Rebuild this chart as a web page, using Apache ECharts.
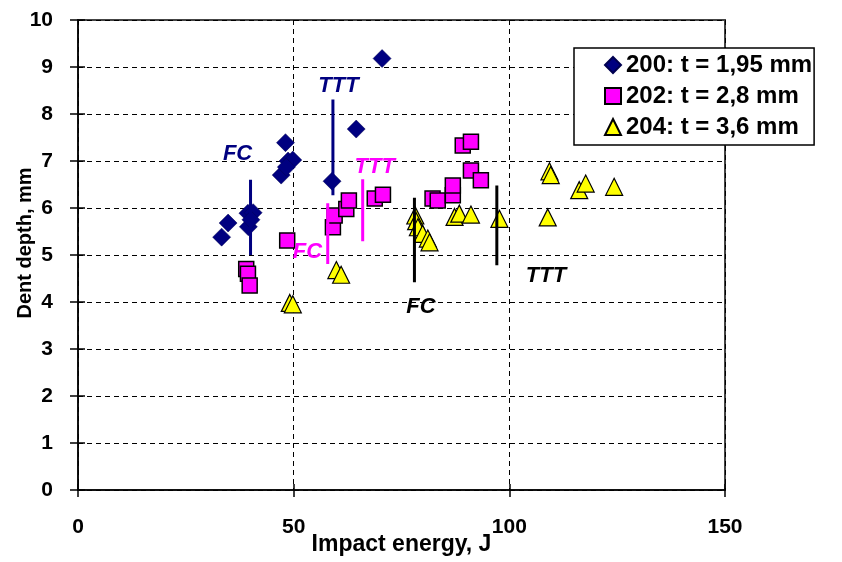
<!DOCTYPE html>
<html>
<head>
<meta charset="utf-8">
<script src="https://cdn.jsdelivr.net/npm/echarts@6/dist/echarts.min.js"></script>
<style>
  html, body { margin: 0; padding: 0; background: #fff; }
  #main { width: 842px; height: 562px; }
</style>
</head>
<body>
<div id="main"></div>
<script>
var dom = document.getElementById('main');
var myChart = echarts.init(dom);

// data: [impact energy J, dent depth mm]
var s200 = [[33.3, 5.38], [34.8, 5.68], [39.4, 5.89], [40.6, 5.9], [39.5, 5.6], [40.1, 5.75],
    [48.1, 7.39], [48.7, 7.0], [49.8, 7.02], [47.1, 6.7], [48.3, 6.87], [58.9, 6.57],
    [64.5, 7.68], [70.5, 9.18]];
var s202 = [[39.0, 4.7], [39.4, 4.6], [39.8, 4.35], [48.5, 5.31], [59.1, 5.59], [59.5, 5.84],
    [62.2, 5.98], [62.8, 6.16], [68.8, 6.2], [70.7, 6.28], [82.2, 6.2], [83.4, 6.16],
    [86.9, 6.27], [86.9, 6.48], [89.2, 7.33], [91.1, 7.41], [91.1, 6.8], [93.4, 6.59]];
var s204 = [[49.1, 3.98], [49.8, 3.95], [59.9, 4.68], [61.0, 4.58], [78.2, 5.84], [78.4, 5.72],
    [78.8, 5.59], [79.9, 5.45], [81.1, 5.35], [81.5, 5.27], [87.3, 5.81], [88.4, 5.88],
    [91.1, 5.86], [97.7, 5.77], [108.9, 5.8], [109.3, 6.78], [109.6, 6.7], [116.2, 6.38],
    [117.7, 6.52], [124.3, 6.45]];

var seriesNames = ['200: t = 1,95 mm', '202: t = 2,8 mm', '204: t = 3,6 mm'];

// FC / TTT range bars
var barX = [40.0, 59.1, 57.9, 66.0, 78.0, 97.1];
var barLow = [5.0, 6.27, 4.81, 5.29, 4.42, 4.78];
var barHigh = [6.6, 8.31, 6.1, 6.61, 6.22, 6.48];
var barColor = ['#000080', '#000080', '#ff00ff', '#ff00ff', '#000000', '#000000'];

// FC / TTT labels
var noteText = ['FC', 'TTT', 'FC', 'TTT', 'FC', 'TTT'];
var noteX = [37.0, 60.4, 53.2, 68.8, 79.5, 108.5];
var noteY = [7.16, 8.6, 5.06, 6.87, 3.89, 4.56];

var xTicks = [0, 150, 50];   // min, max, step
var yTicks = [0, 10, 1];

var fontFam = "'Liberation Sans', Arial, sans-serif";

var series = [
    {
        name: seriesNames[0],
        type: 'scatter',
        symbol: 'diamond',
        symbolSize: 18,
        itemStyle: { color: '#000080', borderColor: '#000050', borderWidth: 0.5, opacity: 1 },
        data: s200,
        z: 3
    },
    {
        name: seriesNames[1],
        type: 'scatter',
        symbol: 'rect',
        symbolSize: 15,
        itemStyle: { color: '#ff00ff', borderColor: '#000', borderWidth: 1.5, opacity: 1 },
        data: s202,
        z: 3
    },
    {
        name: seriesNames[2],
        type: 'scatter',
        symbol: 'triangle',
        symbolSize: 17,
        itemStyle: { color: '#ffff00', borderColor: '#000', borderWidth: 1.2, opacity: 1 },
        data: s204,
        z: 3
    }
];

for (var i = 0; i < barX.length; i++) {
    series.push({
        type: 'line',
        symbol: 'none',
        silent: true,
        lineStyle: { color: barColor[i], width: 3 },
        data: [[barX[i], barLow[i]], [barX[i], barHigh[i]]],
        z: 4
    });
    series.push({
        type: 'scatter',
        symbolSize: 1,
        silent: true,
        itemStyle: { color: 'rgba(0,0,0,0)', opacity: 1 },
        label: {
            show: true,
            position: 'inside',
            formatter: noteText[i],
            color: barColor[i],
            opacity: 1,
            textBorderWidth: 0,
            fontStyle: 'italic',
            fontWeight: 'bold',
            fontSize: 22,
            fontFamily: fontFam
        },
        data: [[noteX[i], noteY[i]]],
        z: 5
    });
}

var gridLine = { show: true, lineStyle: { color: '#000', type: [5, 4], width: 1 } };
var tickFont = { fontSize: 21, fontWeight: 'bold', color: '#000', fontFamily: fontFam };

var option = {
    backgroundColor: '#fff',
    animation: false,
    grid: {
        left: 78,
        right: 117,
        top: 20,
        bottom: 72,
        outerBoundsMode: 'none',
        containLabel: false,
        show: true,
        borderColor: '#444',
        borderWidth: 2,
        backgroundColor: 'transparent'
    },
    legend: {
        data: seriesNames,
        orient: 'vertical',
        left: 574,
        top: 48,
        padding: [5, 2, 6, 30],
        itemWidth: 16,
        itemHeight: 16,
        itemGap: 7,
        backgroundColor: '#fff',
        borderColor: '#000',
        borderWidth: 1.5,
        borderRadius: 0,
        textStyle: {
            fontSize: 24,
            fontWeight: 'bold',
            color: '#000',
            fontFamily: fontFam
        }
    },
    xAxis: [{
        type: 'value',
        min: xTicks[0],
        max: xTicks[1],
        interval: xTicks[2],
        name: 'Impact energy, J',
        nameLocation: 'middle',
        nameGap: 43,
        nameMoveOverlap: false,
        nameTextStyle: { fontSize: 23, fontWeight: 'bold', color: '#000', fontFamily: fontFam },
        axisLine: { lineStyle: { color: '#000', width: 1.5 } },
        axisTick: { length: 7, lineStyle: { color: '#000', width: 1.5 } },
        axisLabel: Object.assign({ margin: 27 }, tickFont),
        splitLine: gridLine
    }, {
        // inner half of the crossing ticks
        type: 'value',
        position: 'bottom',
        min: xTicks[0],
        max: xTicks[1],
        interval: xTicks[2],
        axisLine: { show: false },
        axisTick: { inside: true, length: 6, lineStyle: { color: '#000', width: 1.5 } },
        axisLabel: { show: false },
        splitLine: { show: false }
    }],
    yAxis: [{
        type: 'value',
        min: yTicks[0],
        max: yTicks[1],
        interval: yTicks[2],
        name: 'Dent depth, mm',
        nameLocation: 'middle',
        nameGap: 43,
        nameMoveOverlap: false,
        nameTextStyle: { fontSize: 20, fontWeight: 'bold', color: '#000', fontFamily: fontFam, padding: [0, 0, 0, 24] },
        axisLine: { lineStyle: { color: '#000', width: 1.5 } },
        axisTick: { length: 8, lineStyle: { color: '#000', width: 1.5 } },
        axisLabel: Object.assign({ margin: 25 }, tickFont),
        splitLine: gridLine
    }, {
        type: 'value',
        position: 'left',
        min: yTicks[0],
        max: yTicks[1],
        interval: yTicks[2],
        axisLine: { show: false },
        axisTick: { inside: true, length: 7, lineStyle: { color: '#000', width: 1.5 } },
        axisLabel: { show: false },
        splitLine: { show: false }
    }],
    series: series
};

if (option && typeof option === 'object') {
    myChart.setOption(option, true);
}
</script>
</body>
</html>
